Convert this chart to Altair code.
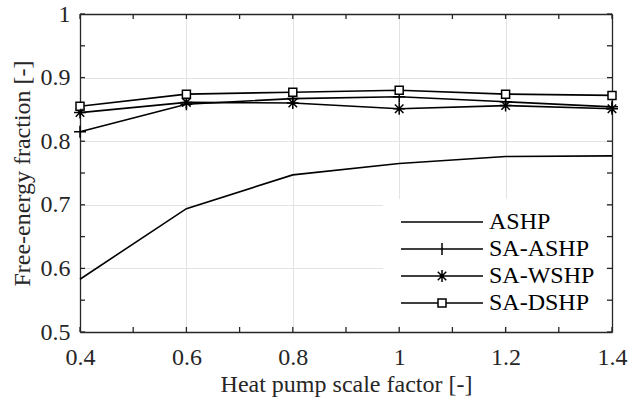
import altair as alt
import pandas as pd

# ---- data ----
scale_factor = [0.4, 0.6, 0.8, 1.0, 1.2, 1.4]
ashp = [0.583, 0.694, 0.747, 0.765, 0.776, 0.777]
sa_ashp = [0.815, 0.858, 0.867, 0.870, 0.862, 0.854]
sa_wshp = [0.845, 0.861, 0.860, 0.851, 0.856, 0.851]
sa_dshp = [0.855, 0.874, 0.877, 0.880, 0.874, 0.872]
series_names = ["ASHP", "SA-ASHP", "SA-WSHP", "SA-DSHP"]

x_major = [0.4, 0.6, 0.8, 1.0, 1.2, 1.4]
x_minor = [0.4, 0.5, 0.6, 0.7, 0.8, 0.9, 1.0, 1.1, 1.2, 1.3, 1.4]
y_major = [0.5, 0.6, 0.7, 0.8, 0.9, 1.0]
y_minor = [0.5, 0.55, 0.6, 0.65, 0.7, 0.75, 0.8, 0.85, 0.9, 0.95, 1.0]

rows = []
for name, vals in zip(series_names, [ashp, sa_ashp, sa_wshp, sa_dshp]):
    for xv, yv in zip(scale_factor, vals):
        rows.append({"x": xv, "v": yv, "series": name})
df = pd.DataFrame(rows)

FONT = "Liberation Serif"
AX = "#262626"
W, H = 532, 318
X0, X1 = 0.4, 1.4
Y0, Y1 = 0.5, 1.0
TICK_PX = 5
xlen = (X1 - X0) * TICK_PX / W
ylen = (Y1 - Y0) * TICK_PX / H

# inward tick marks in data space (MATLAB-style box ticks)
tick_rows = []
for t in x_minor:
    tick_rows.append({"x": t, "x2": t, "y": Y0, "y2": Y0 + ylen})
    tick_rows.append({"x": t, "x2": t, "y": Y1, "y2": Y1 - ylen})
for t in y_minor:
    tick_rows.append({"x": X0, "x2": X0 + xlen, "y": t, "y2": t})
    tick_rows.append({"x": X1, "x2": X1 - xlen, "y": t, "y2": t})
ticks_df = pd.DataFrame(tick_rows)

xscale = alt.Scale(domain=[X0, X1], nice=False, zero=False)
yscale = alt.Scale(domain=[Y0, Y1], nice=False, zero=False)

base = alt.Chart(df)

lines = base.mark_line(color="black", strokeWidth=1.6).encode(
    x=alt.X("x:Q", scale=xscale, axis=alt.Axis(
        orient="bottom", values=x_major, format="~g", grid=True, ticks=False,
        domain=True, title="Heat pump scale factor [-]", labelPadding=13,
        labelFlush=False, titlePadding=3)),
    y=alt.Y("v:Q", scale=yscale, axis=alt.Axis(
        orient="left", values=y_major, format="~g", grid=True, ticks=False,
        domain=True, title="Free-energy fraction [-]", labelPadding=10,
        labelFlush=False, titlePadding=6)),
    detail="series:N",
)

marker_names = ["SA-ASHP", "SA-WSHP", "SA-DSHP"]
marker_paths = [
    "M-1.2,0L1.2,0M0,-1.2L0,1.2",
    "M-1.2,0L1.2,0M0,-1.2L0,1.2M-0.85,-0.85L0.85,0.85M-0.85,0.85L0.85,-0.85",
    "M-0.8,-0.8L0.8,-0.8L0.8,0.8L-0.8,0.8Z",
]
points = base.transform_filter(
    alt.FieldOneOfPredicate(field="series", oneOf=marker_names)
).mark_point(size=100, fill="white", fillOpacity=1, stroke="black",
             strokeWidth=1.5, opacity=1).encode(
    x=alt.X("x:Q", scale=xscale, axis=None),
    y=alt.Y("v:Q", scale=yscale, axis=None),
    shape=alt.Shape("series:N", scale=alt.Scale(domain=marker_names, range=marker_paths),
                    legend=None),
)

legend_paths = [
    "M-8.2,0L8.2,0",
    "M-8.2,0L8.2,0M0,-1.2L0,1.2",
    "M-8.2,0L8.2,0M0,-1.2L0,1.2M-0.85,-0.85L0.85,0.85M-0.85,0.85L0.85,-0.85",
    "M-8.2,0L-0.8,0M0.8,0L8.2,0M-0.8,-0.8L0.8,-0.8L0.8,0.8L-0.8,0.8Z",
]
legend_layer = base.mark_point(opacity=0, size=100, color="black").encode(
    x=alt.X("x:Q", scale=xscale, axis=None),
    y=alt.Y("v:Q", scale=yscale, axis=None),
    shape=alt.Shape("series:N", sort=series_names,
                    scale=alt.Scale(domain=series_names, range=legend_paths),
                    legend=alt.Legend(
                        title=None, orient="bottom-right", offset=6, padding=11,
                        fillColor="white", labelFont=FONT, labelFontSize=24,
                        labelColor="black", symbolStrokeColor="black",
                        symbolFillColor="white", symbolStrokeWidth=1.5,
                        symbolSize=100, symbolOffset=36, labelOffset=35,
                        rowPadding=3, symbolOpacity=1)),
)

def frame_axis(orient):
    return alt.Axis(orient=orient, grid=False, labels=False, ticks=False,
                    domain=True, title=None)

frame_tr = base.mark_point(opacity=0).encode(
    x=alt.X("x:Q", scale=xscale, axis=frame_axis("top")),
    y=alt.Y("v:Q", scale=yscale, axis=frame_axis("right")),
)

ticks = alt.Chart(ticks_df).mark_rule(color=AX, strokeWidth=1.3).encode(
    x=alt.X("x:Q", scale=xscale, axis=None),
    x2="x2:Q",
    y=alt.Y("y:Q", scale=yscale, axis=None),
    y2="y2:Q",
)

chart = alt.layer(lines, points, frame_tr, ticks, legend_layer).resolve_axis(
    x="independent", y="independent"
).resolve_scale(shape="independent").properties(
    width=W, height=H,
    autosize=alt.AutoSizeParams(type="none"),
    padding={"left": 80, "top": 14, "right": 17, "bottom": 66},
    background="white",
).configure_view(stroke=None).configure_axis(
    labelFont=FONT, labelFontSize=24, labelColor=AX,
    titleFont=FONT, titleFontSize=24, titleFontWeight="normal", titleColor=AX,
    domainColor=AX, domainWidth=1.3, gridColor="#e3e3e3", gridWidth=1,
)

chart.save("out.html", embed_options={"renderer": "svg", "actions": False})
